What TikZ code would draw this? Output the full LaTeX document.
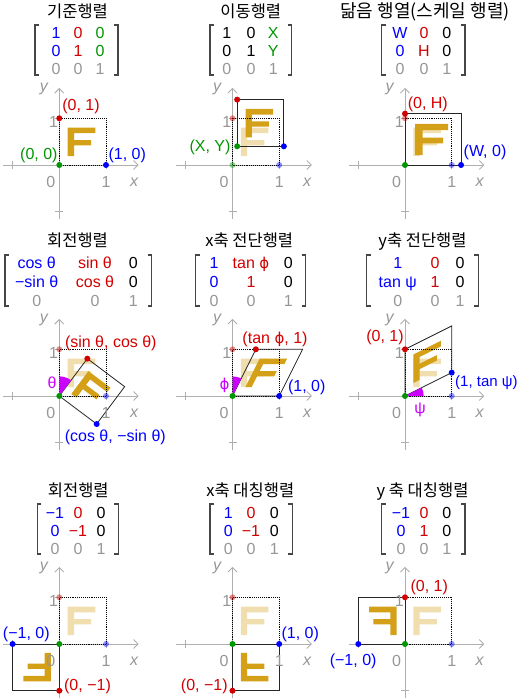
\documentclass[tikz,border=0pt]{standalone}
\usepackage{fontspec}
\setmainfont{Liberation Sans}
\newfontfamily\krfont{Noto Sans CJK KR}
\newfontfamily\dvfont{DejaVu Sans}
\usetikzlibrary{arrows.meta}
\definecolor{cblue}{RGB}{0,0,255}
\definecolor{cred}{RGB}{210,0,0}
\definecolor{cgreen}{RGB}{0,150,0}
\definecolor{cgray}{RGB}{150,150,150}
\definecolor{axgray}{RGB}{175,175,175}
\definecolor{brkgray}{RGB}{70,70,70}
\definecolor{gold}{RGB}{212,160,23}
\definecolor{cmag}{RGB}{204,0,255}

\newcommand\sphi{{\dvfont\fontsize{15}{17}\selectfont ϕ}}

\tikzset{
  ax/.style={draw=axgray, line width=0.9pt},
  axarr/.style={ax, -{Straight Barb[length=4.5pt,width=9pt]}},
  alab/.style={font=\fontsize{16}{18}\selectfont, text=cgray, inner sep=0pt, anchor=base},
  lab/.style={font=\fontsize{16}{18}\selectfont, inner sep=0pt, anchor=base},
  ent/.style={font=\fontsize{16}{18}\selectfont, inner sep=0pt, anchor=base},
  ttl/.style={font=\krfont\fontsize{16.5}{18}\selectfont, inner sep=0pt, anchor=base},
  brk/.style={draw=brkgray, line width=1.2pt},
  origsq/.style={draw=black, line width=0.9pt, densely dotted},
  transsq/.style={draw=black!85, line width=0.8pt},
  ghost/.style={opacity=0.45},
}

\newcommand\Ffill[1]{\fill[#1] (0.18,0.19) -- (0.315,0.19) -- (0.315,0.42) -- (0.68,0.42) -- (0.68,0.535) -- (0.315,0.535) -- (0.315,0.68) -- (0.77,0.68) -- (0.77,0.80) -- (0.18,0.80) -- cycle;}
\newcommand\Fghost{\Ffill{gold, fill opacity=0.35}}
\newcommand\myaxes{%
  \draw[axarr] (-1.2,0) -- (1.7,0);
  \draw[axarr] (0,-1.15) -- (0,1.65);
  \foreach \t in {-1,1}{
    \draw[ax] (\t,0) ++(0pt,-4pt) -- ++(0pt,8pt);
    \draw[ax] (0,\t) ++(-4pt,0pt) -- ++(8pt,0pt);
  }}
\newcommand\axlabels[1]{%
  \node[alab] (#1o) at (-0.18,-0.49) {0};
  \node[alab] (#1xa) at (1,-0.49) {1};
  \node[alab] (#1x) at (1.6,-0.47) {\itshape x};
  \node[alab] (#1ya) at (-0.12,0.81) {1};
  \node[alab] (#1y) at (-0.33,1.57) {\itshape y};}
\newcommand\pt[3][]{\fill[#2,#1] (#3) circle[radius=3pt];}
\newcommand\brackets[4]{%
  \draw[brk] (#1+4,#3) -- (#1,#3) -- (#1,#4) -- (#1+4,#4);
  \draw[brk] (#2-4,#3) -- (#2,#3) -- (#2,#4) -- (#2-4,#4);}
\newcommand\E[5]{\node[ent,text=#2] (#1) at (#3,#4) {#5};}

\begin{document}
\begin{tikzpicture}[x=1pt,y=-1pt]
\useasboundingbox (0,0) rectangle (525,700);

% ---------- titles ----------
\node[ttl] (t1) at (77.5,18) {기준행렬};
\node[ttl] (t2) at (250.8,18) {이동행렬};
\node[ttl, font=\krfont\fontsize{18}{20}\selectfont] (t3) at (425,17.5) {닮음 행열(스케일 행렬)};
\node[ttl] (t4) at (77.5,247) {회전행렬};
\node[ttl] (t5) at (249.2,247) {x축 전단행렬};
\node[ttl] (t6) at (422.5,247) {y축 전단행렬};
\node[ttl] (t7) at (78.3,496.5) {회전행렬};
\node[ttl] (t8) at (250.3,496.5) {x축 대칭행렬};
\node[ttl] (t9) at (422.5,496.5) {y 축 대칭행렬};

% ---------- matrices ----------
\brackets{35}{118}{25}{75}
\E{m1a}{cblue}{56}{38.3}{1}  \E{m1b}{cred}{78}{38.3}{0}  \E{m1c}{cgreen}{100}{38.3}{0}
\E{m1d}{cblue}{56}{56.3}{0}  \E{m1e}{cred}{78}{56.3}{1}  \E{m1f}{cgreen}{100}{56.3}{0}
\E{m1g}{cgray}{56}{74.3}{0}  \E{m1h}{cgray}{78}{74.3}{0} \E{m1i}{cgray}{100}{74.3}{1}

\brackets{210}{291.7}{25}{75}
\E{m2a}{black}{226.7}{38.3}{1} \E{m2b}{black}{251}{38.3}{0} \E{m2c}{cgreen}{273.3}{38.3}{X}
\E{m2d}{black}{226.7}{56.3}{0} \E{m2e}{black}{251}{56.3}{1} \E{m2f}{cgreen}{273.3}{56.3}{Y}
\E{m2g}{cgray}{226.7}{74.3}{0} \E{m2h}{cgray}{251}{74.3}{0} \E{m2i}{cgray}{273.3}{74.3}{1}

\brackets{381.7}{465}{25}{75}
\E{m3a}{cblue}{400}{38.3}{W} \E{m3b}{cred}{424}{38.3}{0} \E{m3c}{black}{446.7}{38.3}{0}
\E{m3d}{cblue}{400}{56.3}{0} \E{m3e}{cred}{424}{56.3}{H} \E{m3f}{black}{446.7}{56.3}{0}
\E{m3g}{cgray}{400}{74.3}{0} \E{m3h}{cgray}{424}{74.3}{0} \E{m3i}{cgray}{446.7}{74.3}{1}

\brackets{5}{151.7}{255}{306}
\E{m4a}{cblue}{36.7}{269}{cos θ}  \E{m4b}{cred}{95}{269}{sin θ}  \E{m4c}{black}{133.3}{269}{0}
\E{m4d}{cblue}{36.7}{287.8}{−sin θ} \E{m4e}{cred}{95}{287.8}{cos θ} \E{m4f}{black}{133.3}{287.8}{0}
\E{m4g}{cgray}{36.7}{306.6}{0} \E{m4h}{cgray}{95}{306.6}{0} \E{m4i}{cgray}{133.3}{306.6}{1}

\brackets{195.7}{305.7}{255}{306}
\E{m5a}{cblue}{214}{269}{1}  \E{m5b}{cred}{251}{269}{tan \sphi}  \E{m5c}{black}{288.3}{269}{0}
\E{m5d}{cblue}{214}{287.8}{0} \E{m5e}{cred}{251}{287.8}{1} \E{m5f}{black}{288.3}{287.8}{0}
\E{m5g}{cgray}{214}{306.6}{0} \E{m5h}{cgray}{251}{306.6}{0} \E{m5i}{cgray}{288.3}{306.6}{1}

\brackets{366.7}{478.3}{255}{306}
\E{m6a}{cblue}{397.7}{269}{1}  \E{m6b}{cred}{435}{269}{0}  \E{m6c}{black}{460}{269}{0}
\E{m6d}{cblue}{397.7}{287.8}{tan ψ} \E{m6e}{cred}{435}{287.8}{1} \E{m6f}{black}{460}{287.8}{0}
\E{m6g}{cgray}{397.7}{306.6}{0} \E{m6h}{cgray}{435}{306.6}{0} \E{m6i}{cgray}{460}{306.6}{1}

\brackets{37.3}{118.3}{504}{554}
\E{m7a}{cblue}{55}{518.2}{−1} \E{m7b}{cred}{78}{518.2}{0} \E{m7c}{black}{101}{518.2}{0}
\E{m7d}{cblue}{55}{536.5}{0} \E{m7e}{cred}{78}{536.5}{−1} \E{m7f}{black}{101}{536.5}{0}
\E{m7g}{cgray}{55}{554}{0} \E{m7h}{cgray}{78}{554}{0} \E{m7i}{cgray}{101}{554}{1}

\brackets{210}{292.3}{504}{554}
\E{m8a}{cblue}{228.3}{518.2}{1} \E{m8b}{cred}{251}{518.2}{0} \E{m8c}{black}{274.3}{518.2}{0}
\E{m8d}{cblue}{228.3}{536.5}{0} \E{m8e}{cred}{251}{536.5}{−1} \E{m8f}{black}{274.3}{536.5}{0}
\E{m8g}{cgray}{228.3}{554}{0} \E{m8h}{cgray}{251}{554}{0} \E{m8i}{cgray}{274.3}{554}{1}

\brackets{381.7}{465}{504}{554}
\E{m9a}{cblue}{401}{518.2}{−1} \E{m9b}{cred}{424}{518.2}{0} \E{m9c}{black}{446.7}{518.2}{0}
\E{m9d}{cblue}{401}{536.5}{0} \E{m9e}{cred}{424}{536.5}{1} \E{m9f}{black}{446.7}{536.5}{0}
\E{m9g}{cgray}{401}{554}{0} \E{m9h}{cgray}{424}{554}{0} \E{m9i}{cgray}{446.7}{554}{1}

% ---------- panel 1: identity ----------
\begin{scope}[shift={(59.3,165)}, x=46.7pt, y=46.7pt]
  \myaxes
  \Ffill{gold}
  \draw[origsq] (0,0) rectangle (1,1);
  \axlabels{a}
  \pt{cgreen}{0,0} \pt{cred}{0,1} \pt{cblue}{1,0}
\end{scope}

% ---------- panel 2: translation ----------
\begin{scope}[shift={(232.5,165)}, x=46.7pt, y=46.7pt]
  \myaxes
  \Fghost
  \begin{scope}[shift={(0.1,0.4)}] \Ffill{gold} \end{scope}
  \draw[origsq] (0,0) rectangle (1,1);
  \draw[transsq] (0.1,0.4) rectangle (1.1,1.4);
  \axlabels{b}
  \pt[ghost]{cgreen}{0,0} \pt[ghost]{cred}{0,1} \pt[ghost]{cblue}{1,0}
  \pt{cgreen}{0.1,0.4} \pt{cred}{0.1,1.4} \pt{cblue}{1.1,0.4}
\end{scope}

% ---------- panel 3: scaling ----------
\begin{scope}[shift={(405,165)}, x=46.7pt, y=46.7pt]
  \myaxes
  \Fghost
  \begin{scope}[xscale=1.2, yscale=1.1] \Ffill{gold} \end{scope}
  \draw[origsq] (0,0) rectangle (1,1);
  \draw[transsq] (0,0) rectangle (1.2,1.1);
  \axlabels{c}
  \pt[ghost]{cred}{0,1} \pt[ghost]{cblue}{1,0}
  \pt{cgreen}{0,0} \pt{cred}{0,1.1} \pt{cblue}{1.2,0}
\end{scope}

% ---------- panel 4: rotation ----------
\begin{scope}[shift={(59.3,396)}, x=46.7pt, y=46.7pt]
  \myaxes
  \Fghost
  \begin{scope}[cm={0.8,-0.6,0.6,0.8,(0,0)}] \Ffill{gold} \end{scope}
  \draw[origsq] (0,0) rectangle (1,1);
  \draw[transsq] (0,0) -- (0.8,-0.6) -- (1.4,0.2) -- (0.6,0.8) -- cycle;
  \fill[cmag] (0,0) -- (53.13:0.42) arc[start angle=53.13, end angle=90, radius=0.42] -- cycle;
  \axlabels{d}
  \pt[ghost]{cred}{0,1} \pt[ghost]{cblue}{1,0}
  \pt{cgreen}{0,0} \pt{cred}{0.6,0.8} \pt{cblue}{0.8,-0.6}
\end{scope}

% ---------- panel 5: x shear ----------
\begin{scope}[shift={(232.5,396)}, x=46.7pt, y=46.7pt]
  \myaxes
  \Fghost
  \begin{scope}[cm={1,0,0.5,1,(0,0)}] \Ffill{gold} \end{scope}
  \draw[origsq] (0,0) rectangle (1,1);
  \draw[transsq] (0,0) -- (1,0) -- (1.5,1) -- (0.5,1) -- cycle;
  \fill[cmag] (0,0) -- (63.43:0.42) arc[start angle=63.43, end angle=90, radius=0.42] -- cycle;
  \axlabels{e}
  \pt[ghost]{cred}{0,1}
  \pt{cgreen}{0,0} \pt{cred}{0.5,1} \pt{cblue}{1,0}
\end{scope}

% ---------- panel 6: y shear ----------
\begin{scope}[shift={(405,396)}, x=46.7pt, y=46.7pt]
  \myaxes
  \Fghost
  \begin{scope}[cm={1,0.5,0,1,(0,0)}] \Ffill{gold} \end{scope}
  \draw[origsq] (0,0) rectangle (1,1);
  \draw[transsq] (0,0) -- (1,0.5) -- (1,1.5) -- (0,1) -- cycle;
  \fill[cmag] (0,0) -- (0:0.4) arc[start angle=0, end angle=26.57, radius=0.4] -- cycle;
  \axlabels{f}
  \pt[ghost]{cblue}{1,0}
  \pt{cgreen}{0,0} \pt{cred}{0,1} \pt{cblue}{1,0.5}
\end{scope}

% ---------- panel 7: point reflection ----------
\begin{scope}[shift={(59.3,644)}, x=46.7pt, y=46.7pt]
  \myaxes
  \Fghost
  \begin{scope}[cm={-1,0,0,-1,(0,0)}] \Ffill{gold} \end{scope}
  \draw[origsq] (0,0) rectangle (1,1);
  \draw[transsq] (0,0) rectangle (-1,-1);
  \axlabels{g}
  \pt[ghost]{cred}{0,1} \pt[ghost]{cblue}{1,0}
  \pt{cgreen}{0,0} \pt{cred}{0,-1} \pt{cblue}{-1,0}
\end{scope}

% ---------- panel 8: x-axis reflection ----------
\begin{scope}[shift={(232.5,644)}, x=46.7pt, y=46.7pt]
  \myaxes
  \Fghost
  \begin{scope}[cm={1,0,0,-1,(0,0)}] \Ffill{gold} \end{scope}
  \draw[origsq] (0,0) rectangle (1,1);
  \draw[transsq] (0,0) rectangle (1,-1);
  \axlabels{h}
  \pt[ghost]{cred}{0,1}
  \pt{cgreen}{0,0} \pt{cred}{0,-1} \pt{cblue}{1,0}
\end{scope}

% ---------- panel 9: y-axis reflection ----------
\begin{scope}[shift={(405,644)}, x=46.7pt, y=46.7pt]
  \myaxes
  \Fghost
  \begin{scope}[cm={-1,0,0,1,(0,0)}] \Ffill{gold} \end{scope}
  \draw[origsq] (0,0) rectangle (1,1);
  \draw[transsq] (0,0) rectangle (-1,1);
  \axlabels{i}
  \pt[ghost]{cblue}{1,0}
  \pt{cgreen}{0,0} \pt{cred}{0,1} \pt{cblue}{-1,0}
\end{scope}

% ---------- point labels ----------
\node[lab,text=cred] (l1r) at (81,111) {(0, 1)};
\node[lab,text=cgreen] (l1g) at (38.9,160) {(0, 0)};
\node[lab,text=cblue] (l1b) at (127.2,160) {(1, 0)};
\node[lab,text=cgreen] (l2g) at (210,152) {(X, Y)};
\node[lab,text=cred] (l3r) at (427.8,108.5) {(0, H)};
\node[lab,text=cblue] (l3b) at (485,157) {(W, 0)};
\node[lab,text=cred] (l4r) at (110.8,347) {(sin θ, cos θ)};
\node[lab,text=cblue] (l4b) at (115.3,441) {(cos θ, −sin θ)};
\node[lab,text=cmag] (l4a) at (52,388.5) {θ};
\node[lab,text=cred] (l5r) at (275,343) {(tan \sphi, 1)};
\node[lab,text=cblue] (l5b) at (306.7,391) {(1, 0)};
\node[lab,text=cmag] (l5a) at (224.5,389) {\sphi};
\node[lab,text=cred] (l6r) at (385,341.5) {(0, 1)};
\node[lab,text=cblue,anchor=base west,font=\fontsize{15}{17}\selectfont] (l6b) at (455,386) {(1, tan ψ)};
\node[lab,text=cmag] (l6a) at (420,413.3) {ψ};
\node[lab,text=cblue] (l7b) at (26.3,638) {(−1, 0)};
\node[lab,text=cred] (l7r) at (87.5,690) {(0, −1)};
\node[lab,text=cblue] (l8b) at (300.3,638) {(1, 0)};
\node[lab,text=cred] (l8r) at (204.3,690) {(0, −1)};
\node[lab,text=cred] (l9r) at (429.2,591.7) {(0, 1)};
\node[lab,text=cblue,anchor=base east] (l9b) at (376.7,665) {(−1, 0)};
\end{tikzpicture}
\end{document}
